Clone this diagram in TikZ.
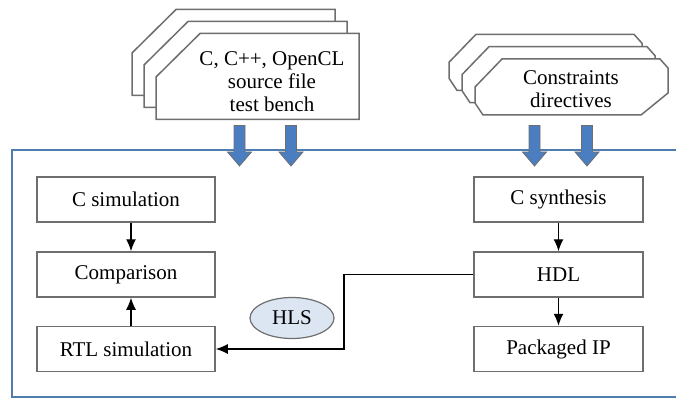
\documentclass[tikz,border=0pt]{standalone}
\usepackage{fontspec}
\setmainfont{Liberation Serif}
\usetikzlibrary{shapes.geometric,arrows.meta}

\definecolor{framecol}{RGB}{79,125,175}
\definecolor{arrowfill}{RGB}{74,126,193}
\definecolor{hlsfill}{RGB}{219,230,242}
\definecolor{edgegray}{RGB}{110,110,110}

\tikzset{
  procbox/.style={draw=edgegray, line width=1.5pt, fill=white, minimum width=178pt, minimum height=45pt, inner sep=0pt},
  flow/.style={-{Latex[length=12pt,width=10pt]}, line width=1.3pt, black},
  docshape/.style={draw=edgegray, line width=1.5pt, fill=white},
  bigarrow/.style={draw=edgegray, line width=0.8pt, fill=arrowfill},
}

\begin{document}
\begin{tikzpicture}[x=1pt, y=-1pt, font=\fontsize{21}{23}\selectfont]
    \useasboundingbox (0,0) rectangle (676,398);

    % frame of the tool
    \begin{scope}
        \clip (0,0) rectangle (676,398);
        \draw[framecol, line width=2pt] (12,150) rectangle (700,397);
    \end{scope}

    % stacked input files
    \foreach \d in {24,12,0}
        \draw[docshape] ({156-\d},{119.5-\d}) -- ({156-\d},{77-\d}) -- ({200-\d},{33.5-\d})
            -- ({359-\d},{33.5-\d}) -- ({359-\d},{119.5-\d}) -- cycle;
    \foreach \d in {26,13,0}
        \draw[docshape] ({502-\d},{59-0.95*\d}) -- ({660-\d},{59-0.95*\d}) -- ({668-\d},{68-0.95*\d})
            -- ({668-\d},{93-0.95*\d}) -- ({641-\d},{115-0.95*\d}) -- ({483-\d},{115-0.95*\d})
            -- ({475-\d},{103-0.95*\d}) -- ({475-\d},{87-0.95*\d}) -- cycle;
    \node[align=center] (srcfile) at (272,82) {C, C++, OpenCL\\source file\\test bench};
    \node[align=center] (constr) at (571,89) {Constraints\\directives};

    % inputs going in
    \foreach \x in {239.5,291,534.5,587}
        \draw[bigarrow] ({\x-5.5},125.5) -- ({\x+5.5},125.5) -- ({\x+5.5},152) -- ({\x+12},152)
            -- (\x,166) -- ({\x-12},152) -- ({\x-5.5},152) -- cycle;

    \node[procbox] (csim) at (126,199.5) {C simulation};
    \node[procbox] (cmp) at (126,274.5) {Comparison};
    \node[procbox] (rtl) at (126,349) {RTL simulation};

    \node[procbox, minimum width=169pt] (csyn) at (558.5,199.5) {C synthesis};
    \node[procbox, minimum width=169pt] (hdl) at (558.5,274.5) {HDL};
    \node[procbox, minimum width=169pt] (pip) at (558.5,349) {Packaged IP};

    \node[ellipse, draw=edgegray, line width=1.2pt, fill=hlsfill, minimum width=84pt,
        minimum height=41pt, inner sep=0pt] (hls) at (292,318) {HLS};

    \draw[flow] ([xshift=5pt]csim.south) -- ([xshift=5pt]cmp.north);
    \draw[flow] ([xshift=5pt]rtl.north) -- ([xshift=5pt]cmp.south);
    \draw[flow] (csyn.south) -- (hdl.north);
    \draw[flow] (hdl.south) -- (pip.north);

    \coordinate (turn) at (344,0);
    \draw[flow] (hdl.west) -- (hdl.west -| turn) |- (rtl.east);

\end{tikzpicture}
\end{document}
